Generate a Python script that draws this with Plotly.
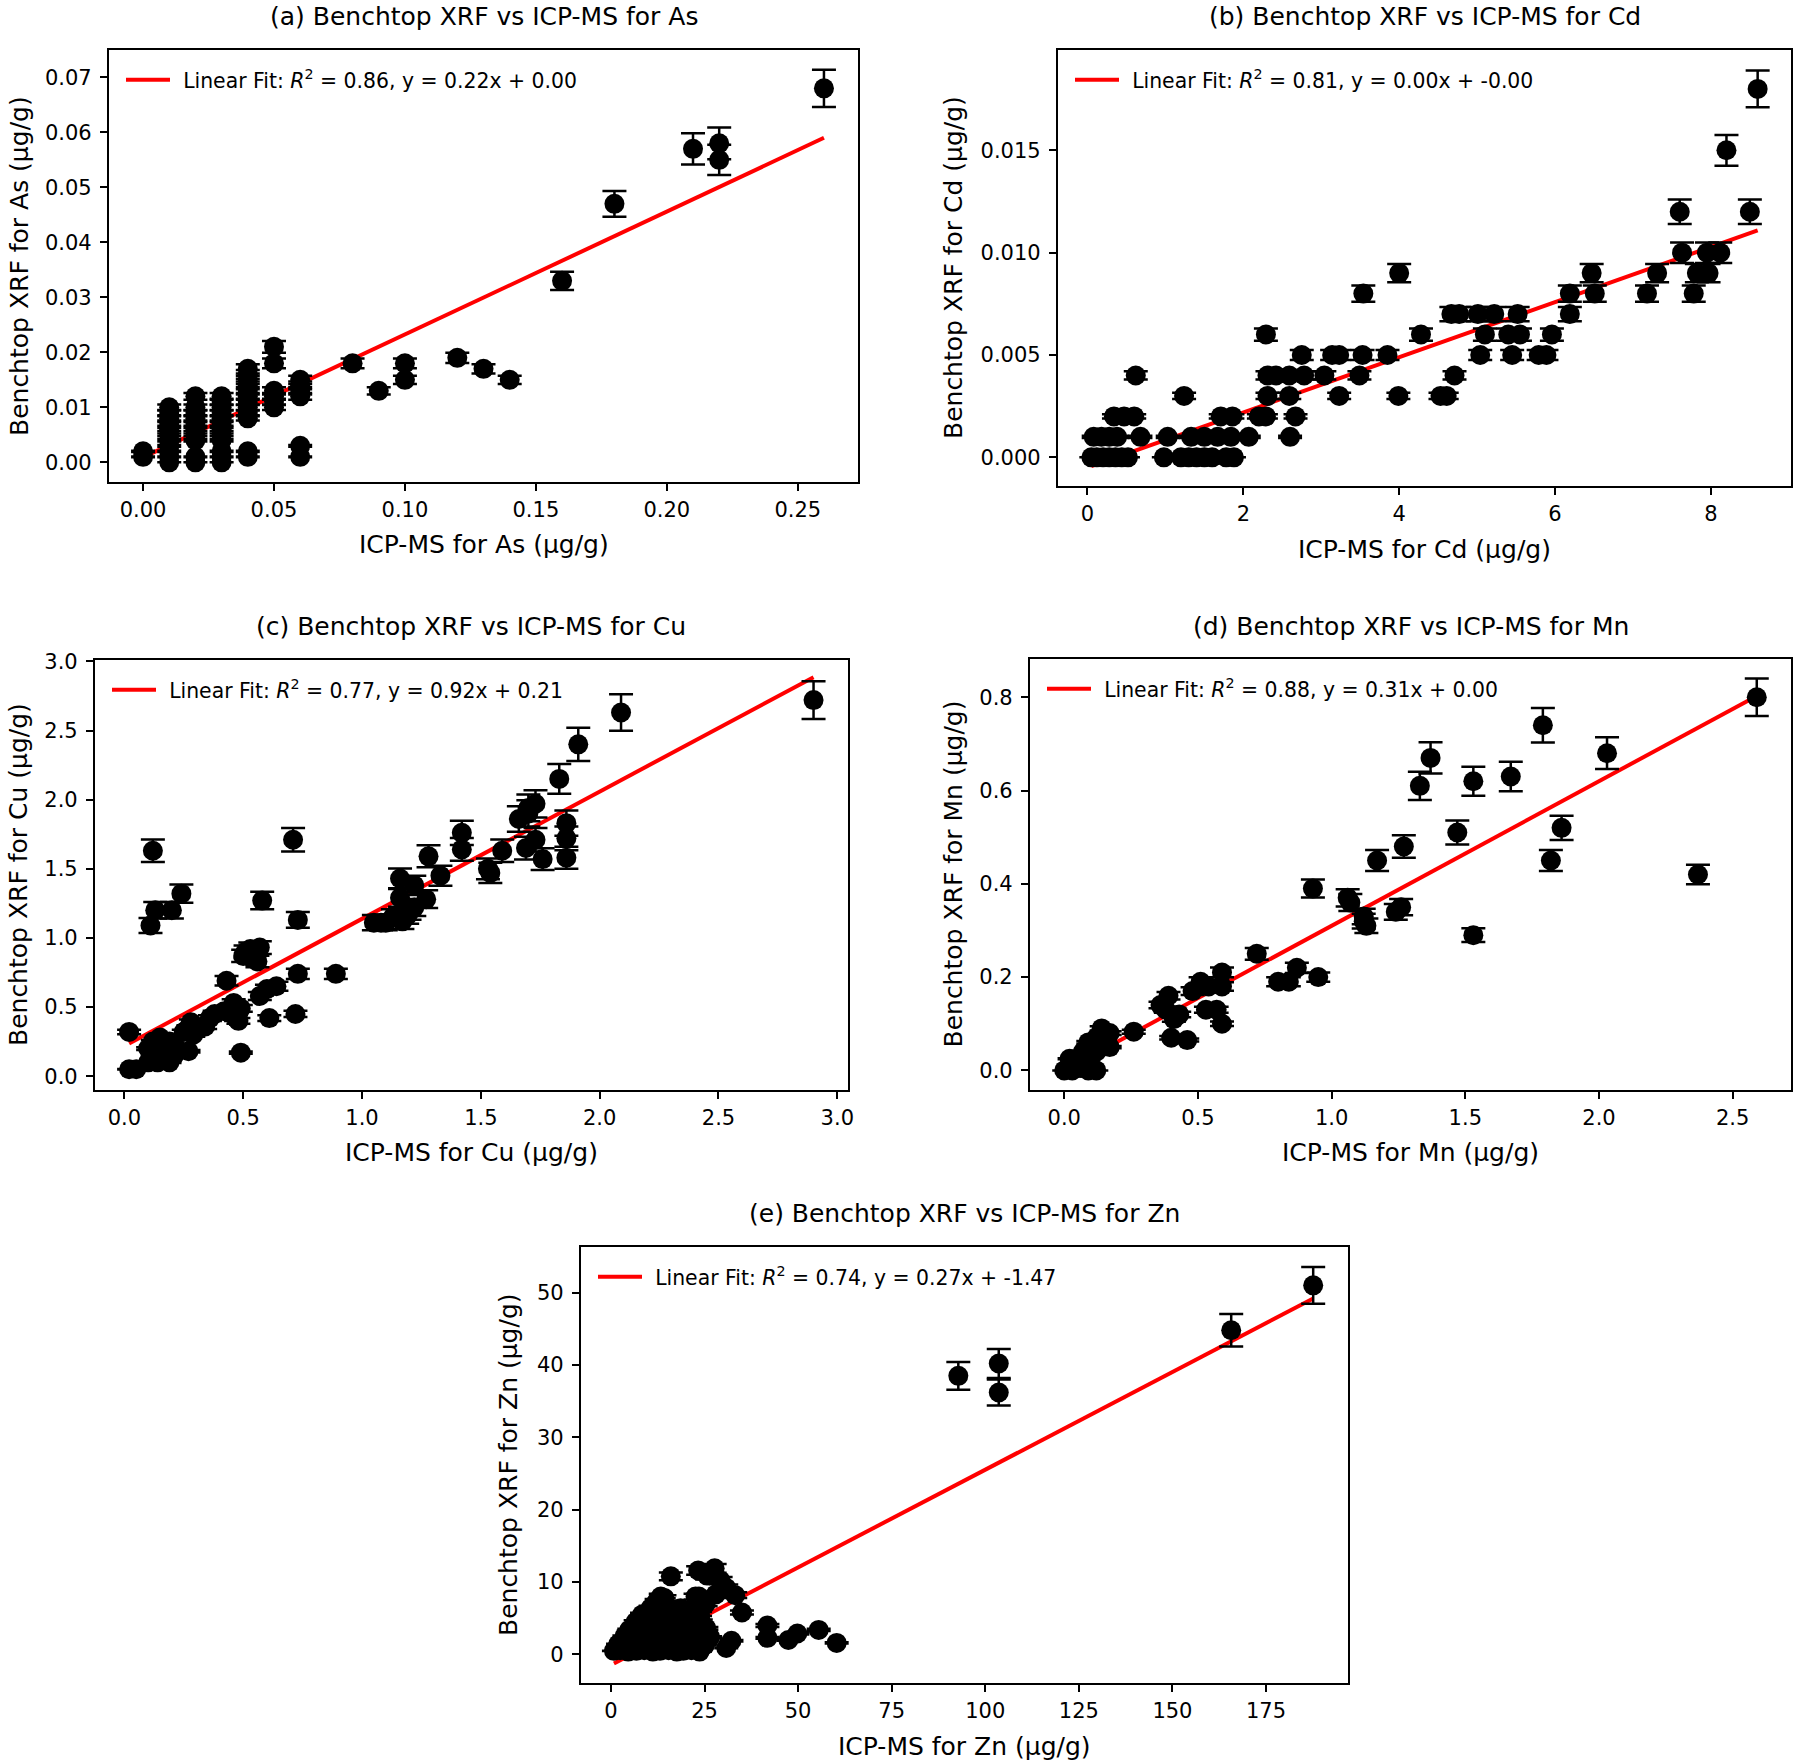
import numpy as np
import plotly.graph_objects as go

# ---------------- data ----------------
# (a) As
AS_X = [0.00, 0.00,
        0.01, 0.01, 0.01, 0.01, 0.01, 0.01, 0.01, 0.01, 0.01, 0.01, 0.01,
        0.02, 0.02, 0.02, 0.02, 0.02, 0.02, 0.02, 0.02, 0.02, 0.02,
        0.03, 0.03, 0.03, 0.03, 0.03, 0.03, 0.03, 0.03, 0.03, 0.03, 0.03, 0.03,
        0.04, 0.04, 0.04, 0.04, 0.04, 0.04, 0.04, 0.04, 0.04, 0.04, 0.04, 0.04,
        0.05, 0.05, 0.05, 0.05, 0.05, 0.05,
        0.06, 0.06, 0.06, 0.06, 0.06, 0.06,
        0.08, 0.09, 0.10, 0.10, 0.12, 0.13, 0.14, 0.16, 0.18, 0.21, 0.22, 0.22, 0.26]
AS_Y = [0.001, 0.002,
        0.000, 0.001, 0.002, 0.003, 0.004, 0.005, 0.006, 0.007, 0.008, 0.009, 0.010,
        0.000, 0.001, 0.004, 0.005, 0.006, 0.007, 0.008, 0.009, 0.010, 0.012,
        0.000, 0.001, 0.002, 0.004, 0.005, 0.006, 0.007, 0.008, 0.009, 0.010, 0.011, 0.012,
        0.001, 0.002, 0.008, 0.009, 0.010, 0.011, 0.012, 0.013, 0.014, 0.015, 0.016, 0.017,
        0.010, 0.011, 0.012, 0.013, 0.018, 0.021,
        0.001, 0.003, 0.012, 0.013, 0.014, 0.015,
        0.018, 0.013, 0.015, 0.018, 0.019, 0.017, 0.015, 0.033, 0.047, 0.057, 0.055, 0.058, 0.068]

# (b) Cd
CD_X = [0.05, 0.12, 0.20, 0.28, 0.36, 0.44, 0.52, 0.98, 1.20, 1.30, 1.40, 1.50, 1.60, 1.78, 1.88,
        0.08, 0.18, 0.28, 0.38, 0.68, 1.03, 1.33, 1.50, 1.67, 1.84, 2.07, 2.60,
        0.34, 0.47, 0.60, 1.71, 1.86, 2.20, 2.29, 2.67,
        1.24, 2.31, 2.59, 3.23, 3.99, 4.53, 4.61,
        0.62, 2.31, 2.42, 2.59, 2.78, 3.04, 3.49, 4.71,
        2.75, 3.14, 3.23, 3.53, 3.85, 5.04, 5.45, 5.79, 5.89,
        2.29, 4.28, 5.10, 5.40, 5.55, 5.96,
        4.67, 4.77, 5.01, 5.22, 5.52, 6.19,
        3.54, 6.19, 6.51, 7.18, 7.78,
        4.00, 6.47, 7.31, 7.82, 7.97,
        7.63, 7.95, 8.12,
        7.60, 8.50,
        8.20,
        8.60]
CD_Y = [0.000] * 15 + [0.001] * 12 + [0.002] * 8 + [0.003] * 7 + [0.004] * 8 + \
       [0.005] * 9 + [0.006] * 6 + [0.007] * 6 + [0.008] * 5 + [0.009] * 5 + \
       [0.010] * 3 + [0.012] * 2 + [0.015] + [0.018]

# (c) Cu
CU_X = [2.90, 2.09, 1.91, 1.83, 1.73, 1.70, 1.66, 1.70, 1.73, 1.69, 1.76, 1.86, 1.86, 1.86,
        1.59, 1.53, 1.54, 1.42, 1.42, 1.33, 1.28, 1.27, 1.22, 1.16, 1.16, 1.20, 1.13, 1.08,
        1.05, 1.10, 1.17, 1.22, 1.19,
        0.73, 0.71, 0.58, 0.12, 0.11, 0.13, 0.20, 0.24,
        0.51, 0.53, 0.57, 0.53, 0.56, 0.50,
        0.73, 0.89, 0.43, 0.57, 0.60, 0.64, 0.61, 0.72,
        0.38, 0.42, 0.46, 0.47, 0.48, 0.49, 0.49,
        0.34, 0.36, 0.28, 0.27, 0.29, 0.33,
        0.10, 0.12, 0.15, 0.19, 0.22, 0.27, 0.25, 0.14, 0.19, 0.10, 0.17, 0.21, 0.13, 0.18,
        0.02, 0.02, 0.05]
CU_Y = [2.72, 2.63, 2.40, 2.15, 1.97, 1.94, 1.86, 1.90, 1.71, 1.65, 1.57, 1.83, 1.72, 1.58,
        1.63, 1.50, 1.47, 1.76, 1.64, 1.45, 1.59, 1.28, 1.38, 1.43, 1.29, 1.19, 1.15, 1.11,
        1.11, 1.11, 1.12, 1.22, 1.16,
        1.13, 1.71, 1.27, 1.63, 1.09, 1.20, 1.20, 1.32,
        0.90, 0.92, 0.93, 0.86, 0.83, 0.87,
        0.74, 0.74, 0.69, 0.58, 0.63, 0.65, 0.42, 0.45,
        0.45, 0.47, 0.53, 0.42, 0.40, 0.49, 0.17,
        0.36, 0.42, 0.39, 0.35, 0.30, 0.36,
        0.20, 0.25, 0.28, 0.25, 0.20, 0.18, 0.32, 0.10, 0.10, 0.10, 0.18, 0.15, 0.16, 0.12,
        0.32, 0.05, 0.05]

# (d) Mn
MN_X = [2.59, 1.79, 2.03, 1.37, 1.33, 1.53, 1.67, 1.47, 1.86, 1.82, 2.37, 1.27, 1.17, 0.93,
        1.06, 1.07, 1.12, 1.13, 1.12, 1.24, 1.26, 1.53, 0.72, 0.95, 0.87, 0.84, 0.80,
        0.51, 0.59, 0.59, 0.48, 0.54, 0.39, 0.36, 0.38, 0.43, 0.41, 0.40, 0.46, 0.53, 0.57,
        0.59, 0.26, 0.14, 0.12, 0.09, 0.17, 0.07, 0.12, 0.05, 0.03, 0.00, 0.09, 0.12, 0.02,
        0.085, 0.17, 0.06, 0.10, 0.15]
MN_Y = [0.80, 0.74, 0.68, 0.67, 0.61, 0.62, 0.63, 0.51, 0.52, 0.45, 0.42, 0.48, 0.45, 0.39,
        0.37, 0.36, 0.33, 0.31, 0.32, 0.34, 0.35, 0.29, 0.25, 0.20, 0.22, 0.19, 0.19,
        0.19, 0.21, 0.18, 0.17, 0.18, 0.16, 0.14, 0.13, 0.12, 0.11, 0.07, 0.065, 0.13, 0.13,
        0.10, 0.083, 0.09, 0.07, 0.06, 0.05, 0.04, 0.04, 0.015, 0.0, 0.0, 0.0, 0.0, 0.025,
        0.022, 0.08, 0.005, 0.01, 0.06]

# (e) Zn
ZN_X = [187.6, 165.7, 92.8, 103.6, 103.6, 35.0, 33.2, 41.8, 41.8, 47.4, 49.8, 55.5, 60.3,
        16.0, 23.3, 27.7, 25.7, 29.3, 30.8, 28.0, 23.5, 14.3, 32.2, 30.8, 26.5, 22.6, 25.3,
        21.7, 13.3, 14.6, 24.0, 25.5, 23.8,
        0.8, 2.5, 4.6, 6.8, 8.9, 11.2, 13.1, 15.4, 17.6, 19.3, 21.5, 23.7,
        1.9, 3.8, 5.9, 8.1, 10.2, 12.4, 14.3, 16.5, 18.8, 20.6, 22.9, 25.1,
        3.6, 5.5, 7.7, 9.6, 11.8, 13.9, 16.2, 18.1, 20.3, 22.4,
        4.9, 7.1, 9.3, 11.5, 13.4, 15.6, 17.8, 19.9, 21.6,
        6.6, 8.7, 10.9, 12.8, 15.1, 17.2, 19.4,
        8.3, 10.4, 12.6, 14.7, 16.9, 20.2,
        10.6, 12.9, 15.0, 18.6,
        12.2, 14.1]
ZN_Y = [51.0, 44.8, 38.5, 40.2, 36.2, 5.8, 8.2, 4.0, 2.3, 2.0, 2.9, 3.4, 1.6,
        10.8, 11.6, 11.9, 10.9, 10.2, 9.2, 8.3, 8.0, 7.8, 1.9, 0.9, 2.4, 8.0, 7.0,
        6.2, 8.0, 6.9, 4.6, 3.6, 5.6,
        0.5, 0.6, 0.4, 0.5, 0.6, 0.4, 0.5, 0.6, 0.4, 0.5, 0.6, 0.4,
        1.4, 1.5, 1.3, 1.4, 1.5, 1.3, 1.4, 1.5, 1.3, 1.4, 1.5, 1.3,
        2.5, 2.4, 2.6, 2.5, 2.4, 2.6, 2.5, 2.4, 2.6, 2.5,
        3.4, 3.5, 3.3, 3.4, 3.5, 3.3, 3.4, 3.5, 3.3,
        4.5, 4.4, 4.6, 4.5, 4.4, 4.6, 4.5,
        5.5, 5.4, 5.6, 5.5, 5.4, 5.6,
        6.4, 6.5, 6.3, 6.4,
        7.3, 7.4]

ELEMENTS = ["As", "Cd", "Cu", "Mn", "Zn"]
PANEL_TAGS = ["(a)", "(b)", "(c)", "(d)", "(e)"]
X_DATA = [AS_X, CD_X, CU_X, MN_X, ZN_X]
Y_DATA = [AS_Y, CD_Y, CU_Y, MN_Y, ZN_Y]
FIT_SLOPE = [0.2235, 0.001347, 0.92, 0.31, 0.27]
FIT_INTERCEPT = [0.0009, -0.0005, 0.218, 0.0, -1.47]
R2_LABEL = ["0.86", "0.81", "0.77", "0.88", "0.74"]
EQ_LABEL = ["y = 0.22x + 0.00", "y = 0.00x + -0.00", "y = 0.92x + 0.21",
            "y = 0.31x + 0.00", "y = 0.27x + -1.47"]
ERR_PERCENT = 5

X_TICKS = [[0.0, 0.05, 0.10, 0.15, 0.20, 0.25], [0, 2, 4, 6, 8],
           [0.0, 0.5, 1.0, 1.5, 2.0, 2.5, 3.0], [0.0, 0.5, 1.0, 1.5, 2.0, 2.5],
           [0, 25, 50, 75, 100, 125, 150, 175]]
Y_TICKS = [[0.0, 0.01, 0.02, 0.03, 0.04, 0.05, 0.06, 0.07], [0.0, 0.005, 0.010, 0.015],
           [0.0, 0.5, 1.0, 1.5, 2.0, 2.5, 3.0], [0.0, 0.2, 0.4, 0.6, 0.8],
           [0, 10, 20, 30, 40, 50]]
X_FMT = [".2f", "d", ".1f", ".1f", "d"]
Y_FMT = [".2f", ".3f", ".1f", ".1f", "d"]
X_RANGE = [[-0.013, 0.273], [-0.378, 9.028], [-0.1235, 3.045], [-0.128, 2.718], [-8.0, 196.9]]
Y_RANGE = [[-0.00357, 0.07497], [-0.0014, 0.0199], [-0.1, 3.01], [-0.042, 0.882], [-3.94, 56.3]]

# ---------------- layout geometry (pixels in the 1800x1764 page) ----------------
W, H = 1800, 1764
BOX = [(109, 858, 50, 482), (1058, 1791, 50, 486), (95, 848, 660, 1090),
       (1030, 1791, 659, 1090), (581, 1348, 1247, 1683)]
TITLE_Y = [16, 16, 626, 626, 1213]
XLAB_Y = [545, 550, 1152, 1152, 1746]
YLAB_X = [19, 954, 18, 953, 508]

FONT = "DejaVu Sans"
fig = go.Figure()
annotations = []
layout = dict(width=W, height=H,
              margin=dict(l=0, r=0, t=0, b=0, pad=0, autoexpand=False),
              paper_bgcolor="white", plot_bgcolor="white",
              font=dict(family=FONT, color="black", size=21), showlegend=True)

for i in range(5):
    n = "" if i == 0 else str(i + 1)
    xa, ya = "x" + n, "y" + n
    lg = "legend" + n
    L, R, T, B = BOX[i]
    xs = np.array(X_DATA[i], dtype=float)
    ys = np.array(Y_DATA[i], dtype=float)
    xfit = np.array([xs.min(), xs.max()])
    yfit = FIT_SLOPE[i] * xfit + FIT_INTERCEPT[i]
    fig.add_trace(go.Scatter(
        x=xfit, y=yfit, mode="lines", xaxis=xa, yaxis=ya, legend=lg,
        line=dict(color="red", width=4),
        name="\u2009\u2009Linear Fit: <i>R</i><sup>2</sup> = %s, %s" % (R2_LABEL[i], EQ_LABEL[i]),
        showlegend=True))
    fig.add_trace(go.Scatter(
        x=xs, y=ys, mode="markers", xaxis=xa, yaxis=ya, showlegend=False,
        marker=dict(color="black", size=20),
        error_y=dict(type="percent", value=ERR_PERCENT, color="black",
                     thickness=2.5, width=12)))
    axcommon = dict(showline=True, mirror=True, linecolor="black", linewidth=2.2,
                    ticks="outside", ticklen=7, tickwidth=2, tickcolor="black",
                    showgrid=False, zeroline=False, automargin=False,
                    tickfont=dict(family=FONT, size=21, color="black"))
    layout["xaxis" + n] = dict(domain=[L / W, R / W], range=X_RANGE[i], anchor=ya,
                               tickvals=X_TICKS[i], tickformat=X_FMT[i],
                               ticklabelstandoff=1, **axcommon)
    layout["yaxis" + n] = dict(domain=[1 - B / H, 1 - T / H], range=Y_RANGE[i], anchor=xa,
                               tickvals=Y_TICKS[i], tickformat=Y_FMT[i],
                               ticklabelstandoff=4, **axcommon)
    layout[lg] = dict(x=(L + 12) / W, y=1 - (T + 10) / H, xanchor="left", yanchor="top",
                      bgcolor="rgba(0,0,0,0)", borderwidth=0,
                      font=dict(family=FONT, size=20.4, color="black"), itemwidth=44)
    el = ELEMENTS[i]
    cx = (L + R) / 2
    annotations.append(dict(text="%s Benchtop XRF vs ICP-MS for %s" % (PANEL_TAGS[i], el),
                            x=cx / W, y=1 - TITLE_Y[i] / H, xref="paper", yref="paper",
                            xanchor="center", yanchor="middle", showarrow=False,
                            font=dict(family=FONT, size=25, color="black")))
    annotations.append(dict(text="ICP-MS for %s (μg/g)" % el,
                            x=cx / W, y=1 - XLAB_Y[i] / H, xref="paper", yref="paper",
                            xanchor="center", yanchor="middle", showarrow=False,
                            font=dict(family=FONT, size=25, color="black")))
    annotations.append(dict(text="Benchtop XRF for %s (μg/g)" % el, textangle=-90,
                            x=YLAB_X[i] / W, y=1 - ((T + B) / 2) / H, xref="paper", yref="paper",
                            xanchor="center", yanchor="middle", showarrow=False,
                            font=dict(family=FONT, size=25, color="black")))

layout["annotations"] = annotations
fig.update_layout(**layout)
fig.write_html("out.html")
